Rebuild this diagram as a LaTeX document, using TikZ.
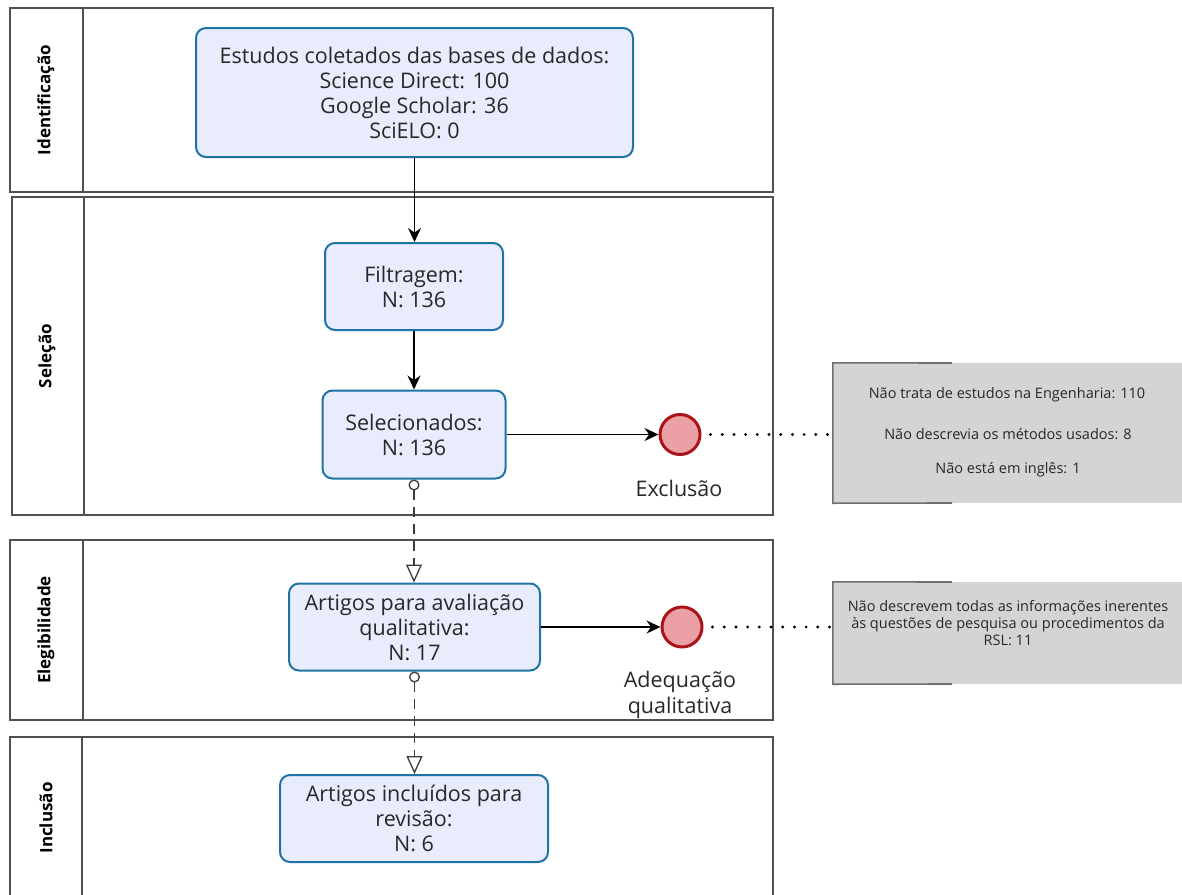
\documentclass[tikz,border=0pt]{standalone}
\usepackage{fontspec}
\setmainfont{Open Sans}
\usetikzlibrary{arrows.meta}
\definecolor{poolline}{RGB}{80,80,80}
\definecolor{assocline}{RGB}{60,60,60}
\definecolor{taskdraw}{RGB}{30,115,165}
\definecolor{taskfill}{RGB}{232,236,252}
\definecolor{evfill}{RGB}{234,160,165}
\definecolor{evdraw}{RGB}{170,20,25}
\definecolor{notefill}{RGB}{212,212,212}
\definecolor{notedraw}{RGB}{110,110,110}
\definecolor{txt}{RGB}{40,40,40}
\tikzset{
  pool/.style={draw=poolline, line width=1.6pt},
  lanelabel/.style={rotate=90, font=\fontsize{17}{19}\selectfont\bfseries, text=black},
  task/.style={draw=taskdraw, fill=taskfill, line width=2pt, rounded corners=10pt, align=center, text=txt, font=\fontsize{21.5}{25}\selectfont, inner sep=0pt},
  endev/.style={circle, draw=evdraw, fill=evfill, line width=3pt, minimum size=40pt, inner sep=0pt},
  evlabel/.style={align=center, text=txt, font=\fontsize{21.5}{26}\selectfont},
  flow/.style={draw=black, line width=1.5pt, -{Stealth[length=14pt,width=13pt]}},
  assoc/.style={draw=assocline, line width=1.5pt, dash pattern=on 10pt off 7pt, {Circle[open,length=11pt,width=11pt,line width=1.3pt,fill=white]}-{Triangle[open,length=18pt,width=16pt,line width=1.3pt,fill=white]}},
  dots/.style={draw=black, line width=3.2pt, line cap=round, dash pattern=on 0pt off 11.7pt},
  notebox/.style={fill=notefill, draw=none, inner sep=0pt},
  notetext/.style={align=center, text=txt, font=\fontsize{14.5}{17}\selectfont, inner sep=0pt},
  bracket/.style={draw=notedraw, line width=1.6pt}
}
\begin{document}
\begin{tikzpicture}[x=1pt,y=-1pt]
\useasboundingbox (0,0) rectangle (1182,894);
% pools
\draw[pool] (10,8) rectangle (773,192);
\draw[pool] (83,8) -- (83,192);
\node[lanelabel] (l1) at (46,100) {Identificação};
\draw[pool] (12,197) rectangle (773,515);
\draw[pool] (84,197) -- (84,515);
\node[lanelabel] (l2) at (47,356) {Seleção};
\draw[pool] (10,540) rectangle (773,720);
\draw[pool] (83,540) -- (83,720);
\node[lanelabel] (l3) at (46,630) {Elegibilidade};
\draw[pool] (10,900) -- (10,737) -- (773,737) -- (773,900);
\draw[pool] (82,737) -- (82,900);
\node[lanelabel] (l4) at (46,818) {Inclusão};
% tasks
\node[task, minimum width=437pt, minimum height=129pt] (b1) at (414.5,92.5) {Estudos coletados das bases de dados:\\Science Direct: 100\\Google Scholar: 36\\SciELO: 0};
\node[task, minimum width=178pt, minimum height=87pt] (b2) at (414,286.5) {Filtragem:\\N: 136};
\node[task, minimum width=183pt, minimum height=88pt] (b3) at (414,434.5) {Selecionados:\\N: 136};
\node[task, minimum width=251pt, minimum height=87pt] (b4) at (414.5,627) {Artigos para avaliação\\qualitativa:\\N: 17};
\node[task, minimum width=268pt, minimum height=87pt] (b5) at (414,818.5) {Artigos incluídos para\\revisão:\\N: 6};
% events
\node[endev] (e1) at (680,434.5) {};
\node[evlabel] (e1l) at (679,488) {Exclusão};
\node[endev] (e2) at (682,627) {};
\node[evlabel] (e2l) at (680,695) {Adequação\\qualitativa};
% notes
\node[notebox, minimum width=349pt, minimum height=140pt] (n1) at (1007.5,433) {};
\node[notetext] (n1a) at (1007,395) {Não trata de estudos na Engenharia: 110};
\node[notetext] (n1b) at (1008,434) {Não descrevia os métodos usados: 8};
\node[notetext] (n1c) at (1008,470) {Não está em inglês: 1};
\draw[bracket] (952,363) -- (n1.north west) -- (n1.south west) -- (952,503);
\node[notebox, minimum width=349pt, minimum height=102pt] (n2) at (1007.5,633) {};
\node[notetext] (n2t) at (1008,623) {Não descrevem todas as informações inerentes\\às questões de pesquisa ou procedimentos da\\RSL: 11};
\draw[bracket] (952,582) -- (n2.north west) -- (n2.south west) -- (952,684);
% flows
\draw[flow] (b1.south) -- (b1.south |- b2.north);
\draw[flow] (b2.south) -- (b2.south |- b3.north);
\draw[flow] (b3.east) -- (e1.west);
\draw[flow] (b4.east) -- (e2.west);
\draw[assoc] (b3.south) -- (b3.south |- b4.north);
\draw[assoc] (b4.south) -- (b4.south |- b5.north);
\draw[dots] ([xshift=9pt]e1.east) -- (n1.west |- e1.east);
\draw[dots] ([xshift=9pt]e2.east) -- (n2.west |- e2.east);
\end{tikzpicture}
\end{document}
